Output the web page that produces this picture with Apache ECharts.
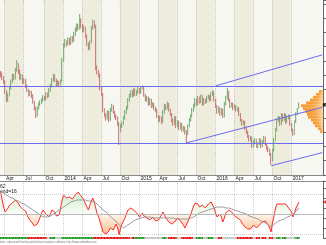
<!DOCTYPE html>
<html><head><meta charset="utf-8">
<script src="https://cdn.jsdelivr.net/npm/echarts@6/dist/echarts.min.js"></script>
<style>html,body{margin:0;padding:0;background:#fff}#c{width:326px;height:245px}</style>
</head><body><div id="c"></div>
<script>
// ---- data (weekly, from 2013-03-11) ----
const startDate = [2013, 2, 11];
const futureWeeks = 16;
const monthNames = ['', 'Apr', 'Jul', 'Oct'];
const openP = [15.90,15.80,15.55,15.30,14.60,14.00,14.35,14.85,15.30,15.70,
15.55,16.10,16.50,16.00,15.55,15.70,15.30,15.40,15.00,14.70,
14.40,14.55,14.30,13.87,13.45,12.95,13.45,13.73,13.87,14.00,
14.20,14.08,14.43,14.30,14.70,15.00,15.42,15.70,15.42,15.13,
15.27,15.13,15.35,16.80,17.87,18.08,17.94,18.22,18.00,18.36,
18.22,18.64,18.92,19.20,19.06,19.63,19.20,18.92,19.06,18.50,
17.94,17.66,18.08,19.06,19.49,19.20,16.26,15.98,15.77,14.85,
14.43,13.31,12.96,12.75,13.17,12.61,13.31,13.59,13.17,12.89,
12.75,12.33,11.91,12.19,12.33,12.75,13.17,13.45,14.01,14.29,
14.57,14.36,14.71,14.43,14.57,14.78,14.57,14.85,14.92,14.36,
14.01,14.15,13.73,14.01,13.59,13.73,13.45,13.31,12.89,12.61,
12.75,12.47,13.17,13.59,13.45,13.73,13.31,13.03,12.61,12.33,
12.75,12.19,12.47,12.05,12.33,11.91,12.05,11.77,11.63,12.19,
12.61,12.89,13.31,13.59,14.01,13.73,14.15,13.87,14.29,13.73,
14.01,13.87,14.15,14.29,14.01,14.43,14.50,14.01,13.59,13.17,
13.45,13.03,13.31,12.89,13.73,14.15,14.57,14.01,13.59,13.73,
13.45,13.59,13.31,13.45,13.03,12.61,12.33,12.47,12.05,11.77,
11.49,11.21,11.35,10.78,11.07,11.21,10.78,10.92,11.21,10.78,
11.07,11.35,10.92,10.64,10.50,10.22,9.80,10.50,11.21,11.91,
12.61,12.75,12.33,12.96,12.61,12.96,12.47,12.75,12.89,12.33,
11.91,11.63,12.47,13.03,13.55];
const closeP = [15.80,15.55,15.30,14.60,14.00,14.35,14.85,15.30,15.70,15.55,
16.10,16.50,16.00,15.55,15.70,15.30,15.40,15.00,14.70,14.40,
14.55,14.30,13.87,13.45,12.95,13.45,13.73,13.87,14.00,14.20,
14.08,14.43,14.30,14.70,15.00,15.42,15.70,15.42,15.13,15.27,
15.13,15.35,16.80,17.87,18.08,17.94,18.22,18.00,18.36,18.22,
18.64,18.92,19.20,19.06,19.63,19.20,18.92,19.06,18.50,17.94,
17.66,18.08,19.06,19.49,19.20,16.26,15.98,15.77,14.85,14.43,
13.31,12.96,12.75,13.17,12.61,13.31,13.59,13.17,12.89,12.75,
12.33,11.91,12.19,12.33,12.75,13.17,13.45,14.01,14.29,14.57,
14.36,14.71,14.43,14.57,14.78,14.57,14.85,14.92,14.36,14.01,
14.15,13.73,14.01,13.59,13.73,13.45,13.31,12.89,12.61,12.75,
12.47,13.17,13.59,13.45,13.73,13.31,13.03,12.61,12.33,12.75,
12.19,12.47,12.05,12.33,11.91,12.05,11.77,11.63,12.19,12.61,
12.89,13.31,13.59,14.01,13.73,14.15,13.87,14.29,13.73,14.01,
13.87,14.15,14.29,14.01,14.43,14.50,14.01,13.59,13.17,13.45,
13.03,13.31,12.89,13.73,14.15,14.57,14.01,13.59,13.73,13.45,
13.59,13.31,13.45,13.03,12.61,12.33,12.47,12.05,11.77,11.49,
11.21,11.35,10.78,11.07,11.21,10.78,10.92,11.21,10.78,11.07,
11.35,10.92,10.64,10.50,10.22,9.80,10.50,11.21,11.91,12.61,
12.75,12.33,12.96,12.61,12.96,12.47,12.75,12.89,12.33,11.91,
11.63,12.47,13.03,13.31,13.66];
const lowP = [15.60,15.40,15.15,14.45,13.85,13.90,14.25,14.75,15.20,15.40,
15.45,16.00,15.85,15.45,15.40,15.15,15.15,14.85,14.55,14.25,
14.30,14.15,13.75,13.30,12.75,12.85,13.35,13.60,13.75,13.90,
13.95,14.00,14.15,14.20,14.60,14.90,15.30,15.30,15.00,15.00,
15.00,15.05,15.30,16.70,17.70,17.75,17.85,17.85,17.90,18.05,
18.10,18.50,18.80,18.90,18.95,19.05,18.75,18.80,18.35,17.80,
17.50,17.55,18.00,18.95,19.05,16.10,15.80,15.60,14.70,14.30,
13.15,12.80,12.55,12.65,12.45,12.55,13.20,13.05,12.75,12.60,
12.20,10.85,11.75,12.05,12.25,12.65,13.05,13.35,13.90,14.20,
14.20,14.25,14.30,14.30,14.45,14.45,14.45,14.75,14.25,13.90,
13.90,13.60,13.65,13.45,13.50,13.30,13.15,12.75,12.45,12.50,
12.30,12.40,13.05,13.30,13.35,13.20,12.90,12.45,12.20,12.25,
12.05,12.10,11.90,11.95,11.80,11.80,11.60,11.00,11.55,12.10,
12.50,12.80,13.20,13.50,13.60,13.65,13.75,13.80,13.60,13.65,
13.75,13.80,14.05,13.90,13.95,14.30,13.90,13.45,13.05,13.10,
12.90,12.95,12.75,12.80,13.65,14.05,13.90,13.45,13.50,13.30,
13.35,13.20,13.20,12.90,12.50,12.20,12.25,11.90,11.65,11.35,
11.10,11.10,10.65,10.70,10.95,10.65,10.65,10.85,10.65,10.70,
11.00,10.80,10.50,10.35,10.10,9.45,9.70,10.40,11.10,11.80,
12.45,12.20,12.25,12.50,12.55,12.35,12.40,12.65,12.20,11.80,
11.50,11.55,12.40,12.95,13.42];
const highP = [16.05,15.95,15.70,15.40,14.70,14.50,15.00,15.45,15.85,15.85,
16.25,16.80,16.60,16.15,15.85,15.80,15.55,15.50,15.10,14.80,
14.70,14.65,14.40,13.95,13.55,13.55,13.85,14.00,14.15,14.35,
14.30,14.55,14.55,14.85,15.15,15.55,15.85,15.80,15.50,15.40,
15.35,15.45,16.95,18.00,18.30,18.20,18.40,18.35,18.50,18.50,
18.80,19.10,19.40,19.35,20.05,19.75,19.35,19.25,19.15,18.60,
18.05,18.20,19.20,19.65,19.60,19.30,16.45,16.10,15.85,14.95,
14.50,13.45,13.10,13.30,13.25,13.45,13.75,13.65,13.25,13.00,
12.85,12.45,12.35,12.50,12.90,13.30,13.60,14.15,14.45,14.70,
14.70,14.85,14.80,14.70,14.90,14.85,14.95,15.05,15.00,14.45,
14.30,14.25,14.15,14.10,13.85,13.80,13.55,13.40,12.95,12.90,
12.85,13.30,13.75,13.70,13.90,13.80,13.40,13.10,12.70,12.90,
12.85,12.60,12.55,12.45,12.40,12.20,12.15,11.90,12.30,12.75,
13.00,13.45,13.75,14.15,14.10,14.30,14.25,14.40,14.35,14.15,
14.10,14.30,14.40,14.35,14.55,14.71,14.60,14.10,13.65,13.60,
13.50,13.45,13.40,13.85,14.30,14.85,14.65,14.10,13.85,13.80,
13.70,13.65,13.55,13.50,13.10,12.70,12.60,12.55,12.15,11.85,
11.55,11.50,11.45,11.20,11.35,11.30,11.05,11.35,11.30,11.20,
11.50,11.45,11.00,10.75,10.60,10.30,10.60,11.35,12.05,12.75,
12.90,12.85,13.10,13.05,13.10,13.05,12.90,13.00,12.95,12.40,
12.00,12.60,13.15,13.45,13.83];
const rsi = [71,64,57,52,53,56,59,60,61,62, 64,65,61,58,57,55,56,53,49,46,
44,42,40,38,36,40,43,47,51,54, 52,50,49,47,50,54,56,52,48,47,
49,50,64,69,67,66,68,67,68,65, 66,69,71,72,71,68,66,64,60,57,
54,59,63,66,62,56,50,47,42,37, 32,31,30,29,33,36,35,34,37,40,
36,29,36,40,43,46,50,54,55,56, 56,54,53,51,49,47,49,51,48,46,
46,45,44,46,47,45,43,42,44,46, 49,52,49,46,44,42,41,40,39,42,
44,46,45,43,42,39,36,38,42,46, 49,54,58,61,62,60,57,58,59,58,
56,58,60,62,62,62,56,51,47,48, 50,47,42,46,51,53,54,54,52,51,
48,46,46,46,44,41,39,37,36,35, 34,35,37,39,37,36,37,39,40,42,
44,43,42,39,36,32,42,48,56,60, 62,60,59,60,61,60,58,56,56,52,
47,51,56,59,62];
const rsiMa = [72,71,71,70,69,68,67,67,66,65, 64,64,63,62,61,60,60,59,58,57,
56,55,54,53,52,51,50,49,48,48, 47,47,47,48,48,49,50,51,52,53,
54,55,56,57,58,59,60,61,62,62, 63,63,64,64,64,64,64,64,64,64,
63,63,63,63,62,61,60,58,57,56, 54,53,52,50,49,48,46,45,44,42,
41,40,38,37,36,37,38,39,40,41, 42,43,44,44,45,46,46,47,47,47,
47,47,47,46,46,46,46,46,46,46, 46,46,46,46,46,46,46,46,46,45,
45,45,45,45,45,45,45,45,45,46, 46,46,47,48,49,50,51,52,52,53,
53,54,54,55,55,56,56,56,57,57, 57,57,57,56,56,56,56,56,55,55,
54,54,53,52,52,51,51,50,50,49, 48,48,47,46,46,45,45,44,43,43,
42,41,40,39,38,37,38,39,41,42, 43,43,44,45,45,46,47,47,48,49,
50,52,53,54,56];
const stateRuns = [['g',19],['r',13],['n',2],['g',4],['n',4],['g',22],['r',25],['n',1],['r',2],['g',7],
['n',12],['g',3],['n',1],['r',6],['n',3],['r',8],['n',2],['g',5],['n',3],['g',4],['n',3],['r',3],
['n',10],['r',11],['n',2],['r',3],['n',1],['r',3],['n',2],['r',3],['n',2],['g',3],['n',1],['g',3],['n',6],['g',3]];
const profileLevels = ['11.8','12.0','12.2','12.4','12.6','12.8','13.0','13.2','13.4','13.6','13.8','14.0','14.2','14.4','14.6'];
const profileVolume = [3,5,8,10,12,15,16,18,20,22,17,13,10,7,4];
const hLevels = [15, 11];
const trendLines = [[147,15.0,220,17.18],[127,11.0,220,13.5],[185,9.4,220,10.32]];
const rsiLevels = [70, 50, 30];

// ---- build ----
const nCat = closeP.length + futureWeeks;
const lastData = closeP.length - 1;
const dates = [];
const d0 = Date.UTC(startDate[0], startDate[1], startDate[2]);
for (let i = 0; i < nCat; i++) dates.push(new Date(d0 + i * 7 * 864e5).toISOString().slice(0, 10));
const qStart = dates.map((s, i) => {
  if (i === 0 || i > lastData) return false;
  const m = +s.slice(5, 7) - 1, pm = +dates[i - 1].slice(5, 7) - 1;
  return m !== pm && m % 3 === 0;
});
const qLabel = (s) => { const m = +s.slice(5, 7) - 1; return m === 0 ? s.slice(0, 4) : monthNames[m / 3]; };
const candles = closeP.map((c, i) => [openP[i], c, lowP[i], highP[i]]);
const ranges = closeP.map((c, i) => [lowP[i], highP[i], lowP[i], highP[i]]);
const stateColors = { g: '#1c9a1c', r: '#e31414', n: '#c4c4c4' };
const stateData = [];
stateRuns.forEach(([k, n]) => { for (let j = 0; j < n; j++) stateData.push({ value: 1, itemStyle: { color: stateColors[k] } }); });
const lastIdx = nCat - 1;
const blue = '#6b6bf0';
const qi = (i) => qStart[i];

const chart = echarts.init(document.getElementById('c'), null, { renderer: 'canvas' });
const txt = (x, y, s, size, color, extra) => Object.assign({ type: 'text', x, y, style: { text: s, fontSize: size, fill: color, fontFamily: 'Liberation Sans, Arial, sans-serif', textVerticalAlign: 'middle' } }, extra || {});

chart.setOption({
  animation: false,
  backgroundColor: '#ffffff',
  grid: [
    { left: 0, right: 3, top: 0, height: 175 },
    { left: 0, right: 3, top: 181, height: 57 },
    { left: 0, right: 3, top: 237, height: 2 },
    { left: 301, right: 3, top: 90, height: 43 }
  ],
  xAxis: [
    { type: 'category', gridIndex: 0, data: dates, boundaryGap: true,
      axisLine: { lineStyle: { color: '#8a8a8a', width: 1 } },
      axisTick: { interval: qi, length: 6, lineStyle: { color: '#8a8a8a' } },
      axisLabel: { interval: qi, formatter: qLabel, align: 'left', margin: 1, fontSize: 5, color: '#111', fontFamily: 'Liberation Sans, Arial', verticalAlign: 'top', padding: [0,0,0,1] },
      splitLine: { show: true, interval: qi, lineStyle: { color: '#c8c8c0', type: [1, 1], width: 1 } },
      splitArea: { show: true, interval: qi, areaStyle: { color: ['#f7f7f2', '#eeecdd'] } } },
    { type: 'category', gridIndex: 1, data: dates, boundaryGap: true, position: 'top',
      axisLine: { lineStyle: { color: '#8a8a8a' } }, axisTick: { show: false }, axisLabel: { show: false },
      splitLine: { show: true, interval: qi, lineStyle: { color: '#cfcfcf', type: [1, 1] } } },
    { type: 'category', gridIndex: 2, data: dates, boundaryGap: true, show: false },
    { type: 'value', gridIndex: 3, min: 0, max: 22, inverse: true, show: false }
  ],
  yAxis: [
    { type: 'value', gridIndex: 0, min: 8.75, max: 21.03, position: 'right', interval: 1,
      axisLine: { show: true, lineStyle: { color: '#666' } }, axisTick: { show: true, length: 3, lineStyle: { color: '#666' } },
      axisLabel: { show: false }, splitLine: { show: false } },
    { type: 'value', gridIndex: 1, min: 26, max: 83, position: 'right', interval: 10,
      axisLine: { show: true, lineStyle: { color: '#666' } }, axisTick: { show: true, length: 3, lineStyle: { color: '#666' } },
      axisLabel: { show: false }, splitLine: { show: false } },
    { type: 'value', gridIndex: 2, min: 0, max: 1, show: false },
    { type: 'category', gridIndex: 3, data: profileLevels, show: false }
  ],
  series: [
    { type: 'candlestick', xAxisIndex: 0, yAxisIndex: 0, data: ranges, barWidth: '100%', silent: true,
      itemStyle: { color: '#cfcfca', color0: '#cfcfca', borderColor: '#cfcfca', borderColor0: '#cfcfca', borderWidth: 0 } },
    { type: 'candlestick', xAxisIndex: 0, yAxisIndex: 0, data: candles, barWidth: '80%',
      itemStyle: { color: '#3c9a3c', color0: '#d03c3c', borderColor: '#3c9a3c', borderColor0: '#d03c3c', borderWidth: 0.6 },
      markLine: { silent: true, symbol: ['none', 'none'], label: { show: false },
        lineStyle: { color: blue, width: 1, type: 'solid' },
        data: hLevels.map(v => ({ yAxis: v })).concat(trendLines.map(t => [{ coord: [t[0], t[1]] }, { coord: [t[2], t[3]] }])) } },
    { type: 'scatter', xAxisIndex: 0, yAxisIndex: 0, data: [[lastIdx, closeP[lastData]]], symbol: 'rect', symbolSize: 3, symbolOffset: [2, 0], itemStyle: { color: '#000' }, silent: true },
    { type: 'bar', xAxisIndex: 3, yAxisIndex: 3, data: profileVolume, barCategoryGap: '0%', silent: true,
      itemStyle: { color: { type: 'linear', x: 1, y: 0, x2: 0, y2: 0, colorStops: [{ offset: 0, color: '#fcd3a0' }, { offset: 0.5, color: '#f7a540' }, { offset: 1, color: '#f59a2e' }] } } },
    { type: 'line', xAxisIndex: 1, yAxisIndex: 1, data: rsi, symbol: 'none', silent: true,
      lineStyle: { color: '#ff2a2a', width: 1 },
      areaStyle: { origin: 50, color: { type: 'linear', x: 0, y: 181, x2: 0, y2: 238, global: true,
        colorStops: [{ offset: 0, color: '#9fd79a' }, { offset: 0.578, color: '#f4fbf2' }, { offset: 0.58, color: '#fff1e4' }, { offset: 1, color: '#f39446' }] } },
      markLine: { silent: true, symbol: ['none', 'none'], label: { show: false },
        data: rsiLevels.map(v => ({ yAxis: v, lineStyle: v === 50 ? { color: '#b8b8b8', width: 1, type: 'solid' } : { color: '#cccccc', width: 1, type: [1, 1] } })) } },
    { type: 'line', xAxisIndex: 1, yAxisIndex: 1, data: rsiMa, symbol: 'none', silent: true, lineStyle: { color: '#9a9a9a', width: 1 } },
    { type: 'scatter', xAxisIndex: 1, yAxisIndex: 1, data: [[lastIdx, rsi[rsi.length - 1]]], symbol: 'triangle', symbolRotate: 90, symbolSize: 4, symbolOffset: [2, 0], itemStyle: { color: '#e01010' }, silent: true },
    { type: 'bar', xAxisIndex: 2, yAxisIndex: 2, data: stateData, barWidth: '100%', barCategoryGap: '0%', silent: true }
  ],
  graphic: [
    txt(0, 3.5, '17', 5, '#111'),
    txt(15, 3.5, 'O=13.55', 5, '#111'),
    txt(36, 3.5, 'H=13.83', 5, '#111'),
    txt(59, 3.5, 'L=13.42', 5, '#111'),
    txt(85, 3.5, 'C=13.66', 5, '#111'),
    txt(105, 3.5, 'V=117966', 5, '#111'),
    txt(243, 83, 'Widerstand bei 15 €', 5, '#4040dd'),
    txt(173, 155, 'Unterstützung bei 11 €', 5, '#4040dd'),
    txt(0, 186.5, '62', 5, '#111'),
    txt(0, 192, 'end=16', 5, '#111'),
    txt(0, 242.5, 'oker - advanced charting and technical analysis software. http://www.amibroker.com', 2.6, '#777')
  ]
});
</script></body></html>
